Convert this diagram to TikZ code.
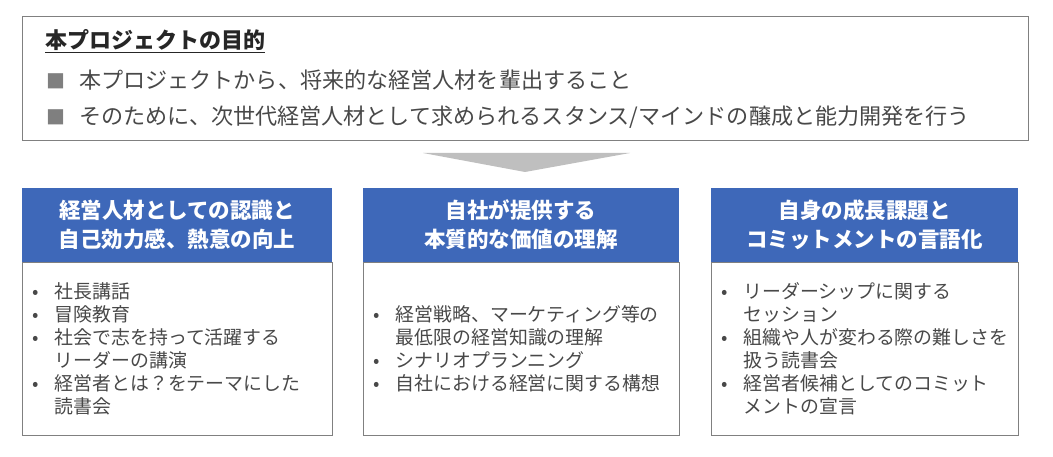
\documentclass[tikz,border=0pt]{standalone}
\usepackage{fontspec}
\setmainfont{Noto Sans CJK JP}
\usepackage{xcolor}
\usepackage{tikz}
\usetikzlibrary{positioning}
\definecolor{headblue}{RGB}{62,104,185}
\definecolor{framegray}{RGB}{128,128,128}
\definecolor{textgray}{RGB}{72,72,72}
\definecolor{titlegray}{RGB}{38,38,38}
\definecolor{markgray}{RGB}{127,127,127}
\definecolor{chevgray}{RGB}{191,191,191}
\newcommand{\bitem}{\hspace*{14pt}\makebox[0pt]{•}\hspace*{19pt}}
\newcommand{\bcont}{\hspace*{33pt}}
\newcommand{\sqmark}{\makebox[33pt][l]{\color{markgray}\fontsize{19}{19}\selectfont ■}}

\begin{document}
\begin{tikzpicture}[x=1pt, y=-1pt,
	purposebox/.style={draw=framegray, line width=1, minimum width=1006, minimum height=124, inner sep=0},
	purposeline/.style={font=\fontsize{22.1}{26}\selectfont, text=textgray, anchor=west, inner sep=0},
	headbox/.style={fill=headblue, text=white, font=\bfseries\fontsize{21.5}{29}\selectfont, minimum width=310, minimum height=74, inner sep=0, align=center},
	bodybox/.style={draw=framegray, line width=1, minimum width=310, minimum height=173, inner sep=0},
	itemlist/.style={font=\fontsize{18.9}{23}\selectfont, text=textgray, anchor=west, inner sep=0, align=left}
]
\useasboundingbox (0,0) rectangle (1053,457);

% purpose of the project
\node[purposebox] (purpose) at (525,79) {};
\node[purposeline, text=titlegray, font=\bfseries\fontsize{22}{26}\selectfont] (title) at (45,41) {\underline{本プロジェクトの目的}};
\node[purposeline] (aim1) at (46,80) {\sqmark 本プロジェクトから、将来的な経営人材を輩出すること};
\node[purposeline] (aim2) at (46,117) {\sqmark そのために、次世代経営人材として求められるスタンス/マインドの醸成と能力開発を行う};

\fill[chevgray] (423,153) -- (630,153) -- (525,172) -- cycle;

% three columns
\node[headbox] (head1) at (177,225) {経営人材としての認識と\\自己効力感、熱意の向上};
\node[headbox, minimum width=316] (head2) at (521,225) {自社が提供する\\本質的な価値の理解};
\node[headbox, minimum width=307] (head3) at (864.5,225) {自身の成長課題と\\コミットメントの言語化};

\node[bodybox, below=0 of head1] (body1) {};
\node[bodybox, minimum width=316, below=0 of head2] (body2) {};
\node[bodybox, minimum width=307, below=0 of head3] (body3) {};

\node[itemlist] (list1) at (body1.west) {\bitem 社長講話\\\bitem 冒険教育\\\bitem 社会で志を持って活躍する\\\bcont リーダーの講演\\\bitem 経営者とは？をテーマにした\\\bcont 読書会};
\node[itemlist] (list2) at (body2.west) {\bitem 経営戦略、マーケティング等の\\\bcont 最低限の経営知識の理解\\\bitem シナリオプランニング\\\bitem 自社における経営に関する構想};
\node[itemlist] (list3) at (body3.west) {\bitem リーダーシップに関する\\\bcont セッション\\\bitem 組織や人が変わる際の難しさを\\\bcont 扱う読書会\\\bitem 経営者候補としてのコミット\\\bcont メントの宣言};
\end{tikzpicture}
\end{document}
